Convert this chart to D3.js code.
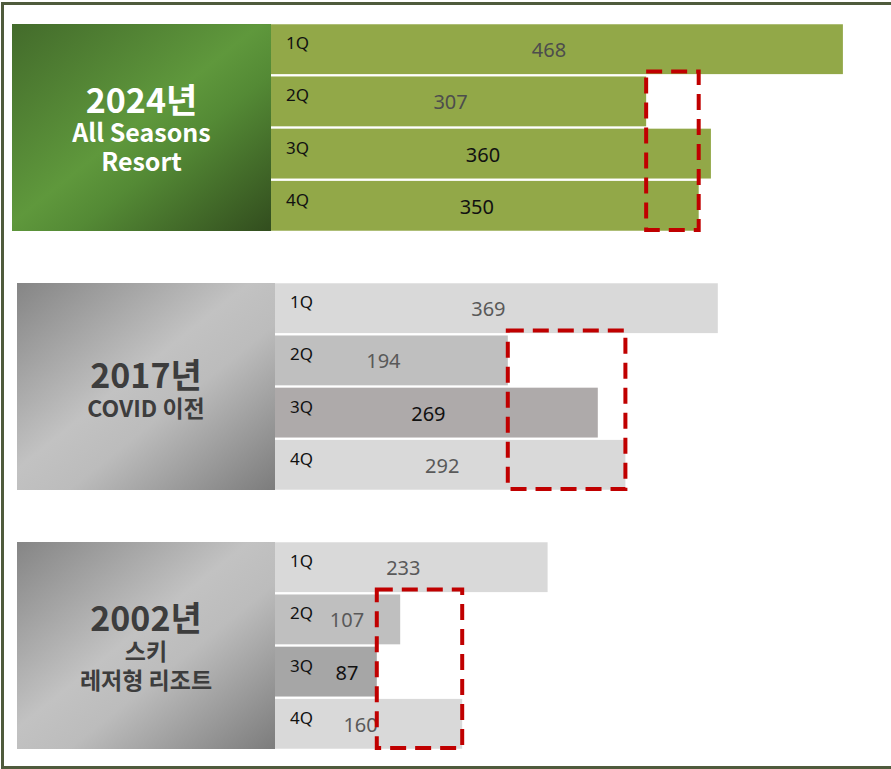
<!DOCTYPE html>
<html><head><meta charset="utf-8">
<script src="https://cdn.jsdelivr.net/npm/d3@7"></script>
<style>
html,body{margin:0;padding:0;background:#fff;overflow:hidden;}
svg{display:block;}
</style></head>
<body>
<svg id="chart" width="891" height="769"></svg>
<script>
// ---- data ----
const quarters = ["1Q", "2Q", "3Q", "4Q"];
const years = ["2024년", "2017년", "2002년"];
const subtitles = [["All Seasons", "Resort"], ["COVID 이전"], ["스키", "레저형 리조트"]];
const values2024 = [468, 307, 360, 350];
const values2017 = [369, 194, 269, 292];
const values2002 = [233, 107, 87, 160];

const seriesValues = [values2024, values2017, values2002];

// ---- styles / layout ----
const panelLayout = [
  {top: 24, boxX: 12, barX: 271, pxPerUnit: 1.222, grad: "gGreen", title: "#ffffff",
   yearY: 113, subY: [142, 171], subSize: 25,
   barColors: ["#92a848", "#92a848", "#92a848", "#92a848"],
   labelColors: ["#4d4d4d", "#4d4d4d", "#111", "#111"]},
  {top: 283, boxX: 17, barX: 275, pxPerUnit: 1.2, grad: "gGrey", title: "#3d3d3d",
   yearY: 388, subY: [417], subSize: 23,
   barColors: ["#d9d9d9", "#bfbfbf", "#aeaaaa", "#d9d9d9"],
   labelColors: ["#595959", "#595959", "#111", "#595959"]},
  {top: 542, boxX: 17, barX: 275, pxPerUnit: 1.17, grad: "gGrey", title: "#3d3d3d",
   yearY: 631, subY: [660, 689], subSize: 23,
   barColors: ["#d9d9d9", "#bfbfbf", "#a6a6a6", "#d9d9d9"],
   labelColors: ["#595959", "#595959", "#111", "#595959"]}
];
const panelH = 207;

const svg = d3.select("#chart");
const defs = svg.append("defs");

function grad(id, stops) {
  const g = defs.append("linearGradient").attr("id", id)
    .attr("x1", "0").attr("y1", "0").attr("x2", "1").attr("y2", "1");
  stops.forEach(s => g.append("stop").attr("offset", s[0]).attr("stop-color", s[1]));
}
grad("gGreen", [[0, "#436b2b"], [0.48, "#5f983c"], [0.62, "#548a35"], [1, "#324d1e"]]);
grad("gGrey", [[0, "#858585"], [0.45, "#c2c2c2"], [0.6, "#bcbcbc"], [1, "#7c7c7c"]]);

// frame (top, left, bottom)
svg.append("path").attr("d", "M891,3.5 H2.5 V767.5 H891")
  .attr("fill", "none").attr("stroke", "#4f5b3c").attr("stroke-width", 3);

const y = d3.scaleBand().domain(quarters).range([0, panelH]).paddingInner(0.045).paddingOuter(0.005);

seriesValues.forEach((vals, pi) => {
  const L = panelLayout[pi];
  const x = d3.scaleLinear().domain([0, 100]).range([0, 100 * L.pxPerUnit]);
  const g = svg.append("g").attr("transform", `translate(0,${L.top})`);

  // label box
  const boxW = L.barX - L.boxX;
  g.append("rect").attr("x", L.boxX).attr("y", 0).attr("width", boxW).attr("height", panelH)
    .attr("fill", `url(#${L.grad})`);

  const cx = L.boxX + boxW / 2;
  const t = svg.append("text").attr("text-anchor", "middle")
    .attr("font-family", "'Noto Sans CJK KR','Noto Sans',sans-serif").attr("font-weight", 700)
    .attr("fill", L.title);
  t.append("tspan").attr("x", cx).attr("y", L.yearY).attr("font-size", 34).text(years[pi]);
  subtitles[pi].forEach((ln, i) => {
    t.append("tspan").attr("x", cx).attr("y", L.subY[i]).attr("font-size", L.subSize).text(ln);
  });

  // bars
  const bars = g.append("g").attr("transform", `translate(${L.barX},0)`);
  bars.selectAll("rect").data(vals).join("rect")
    .attr("x", 0).attr("y", (d, i) => y(quarters[i]))
    .attr("width", d => x(d)).attr("height", y.bandwidth())
    .attr("fill", (d, i) => L.barColors[i]);

  bars.selectAll("text.q").data(quarters).join("text").attr("class", "q")
    .attr("x", 15).attr("y", d => y(d) + 25)
    .attr("font-family", "'Noto Sans',sans-serif").attr("font-size", 17).attr("fill", "#111")
    .text(d => d);

  bars.selectAll("text.v").data(vals).join("text").attr("class", "v")
    .attr("x", d => Math.max(x(d) / 2 - 8, 72))
    .attr("y", (d, i) => y(quarters[i]) + 33)
    .attr("text-anchor", "middle")
    .attr("font-family", "'Noto Sans',sans-serif").attr("font-size", 20)
    .attr("fill", (d, i) => L.labelColors[i])
    .text(d => d);

  // dashed highlight box: from the lower of Q2/Q3 to Q4
  const x0 = x(Math.min(vals[1], vals[2]));
  const x1 = x(vals[3]);
  const yTop = y(quarters[1]) - 5;
  const yBot = panelH - 1;
  bars.append("rect").attr("x", x0).attr("y", yTop).attr("width", x1 - x0).attr("height", yBot - yTop)
    .attr("fill", "none").attr("stroke", "#c00000").attr("stroke-width", 4)
    .attr("stroke-dasharray", "16,9");
});
</script>
</body></html>
